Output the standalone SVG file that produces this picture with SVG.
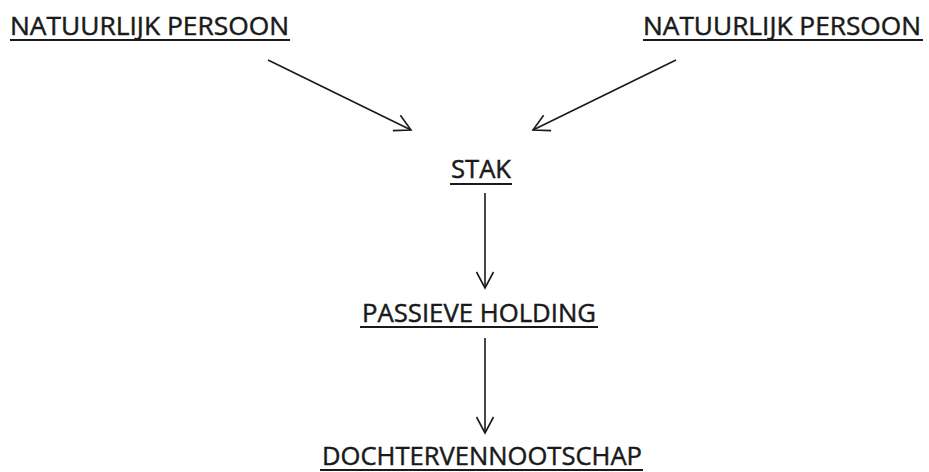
<svg xmlns="http://www.w3.org/2000/svg" width="929" height="472" viewBox="0 0 929 472">
<defs>
<style>
.lbl{font-family:"Open Sans","Liberation Sans",sans-serif;font-size:25px;fill:#1a1a1a;stroke:#1a1a1a;stroke-width:0.45}
.ul{stroke:#1a1a1a;stroke-width:1.8}
.con{stroke:#1a1a1a;stroke-width:1.6;fill:none}
</style>
<marker id="arr" markerWidth="24" markerHeight="24" refX="17" refY="9.5" orient="auto" markerUnits="userSpaceOnUse" viewBox="0 0 24 19">
<path d="M1,1 L17,9.5 L1,18" fill="none" stroke="#1a1a1a" stroke-width="1.6"/>
</marker>
</defs>
<rect width="929" height="472" fill="#fff"/>
<g id="connectors">
<line class="con" x1="268" y1="60" x2="411" y2="130" marker-end="url(#arr)"/>
<line class="con" x1="676" y1="60" x2="533" y2="130" marker-end="url(#arr)"/>
<line class="con" x1="485" y1="193" x2="485" y2="288" marker-end="url(#arr)"/>
<line class="con" x1="485" y1="338" x2="485" y2="433" marker-end="url(#arr)"/>
</g>
<g id="np1">
<text class="lbl" x="10" y="35" textLength="279" lengthAdjust="spacingAndGlyphs">NATUURLIJK PERSOON</text>
<line class="ul" x1="10" y1="40" x2="290" y2="40"/>
</g>
<g id="np2">
<text class="lbl" x="643" y="35" textLength="278" lengthAdjust="spacingAndGlyphs">NATUURLIJK PERSOON</text>
<line class="ul" x1="643" y1="40" x2="923" y2="40"/>
</g>
<g id="stak">
<text class="lbl" x="451" y="178" textLength="60" lengthAdjust="spacingAndGlyphs">STAK</text>
<line class="ul" x1="450" y1="184" x2="512" y2="184"/>
</g>
<g id="holding">
<text class="lbl" x="362" y="322" textLength="234" lengthAdjust="spacingAndGlyphs">PASSIEVE HOLDING</text>
<line class="ul" x1="360" y1="327" x2="598" y2="327"/>
</g>
<g id="dochter">
<text class="lbl" x="322" y="465" textLength="320" lengthAdjust="spacingAndGlyphs">DOCHTERVENNOOTSCHAP</text>
<line class="ul" x1="320" y1="470" x2="643" y2="470"/>
</g>
</svg>
